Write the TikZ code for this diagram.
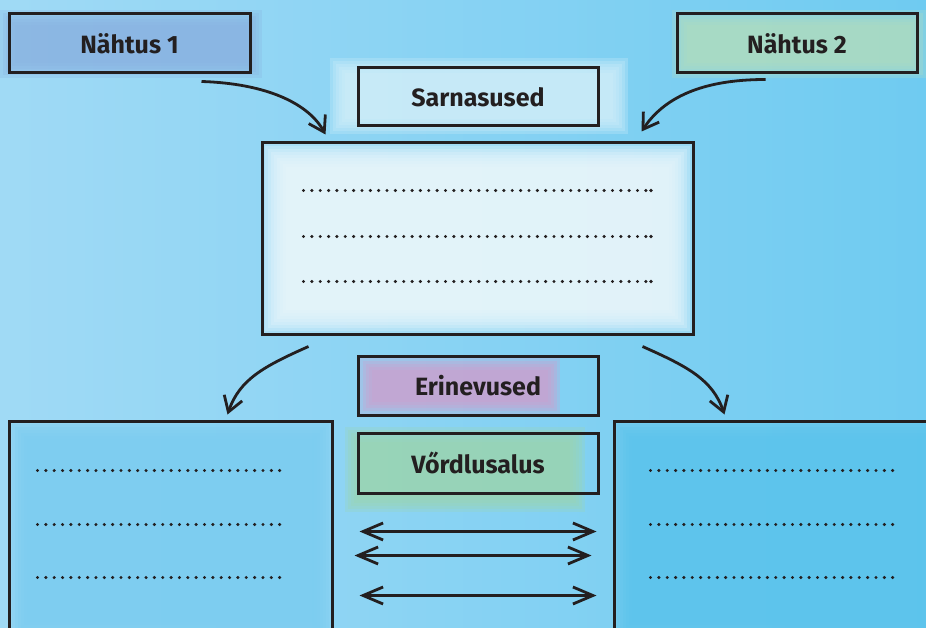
\documentclass[tikz,border=0pt]{standalone}
\usepackage{fontspec}
\setmainfont{Fira Sans}
\usetikzlibrary{arrows.meta,calc}
\definecolor{ink}{HTML}{231F20}
\definecolor{bgl}{HTML}{A0DAF5}
\definecolor{bgr}{HTML}{6FCBF1}
\definecolor{nAfill}{HTML}{8AB3E2}
\definecolor{nBfill}{HTML}{B0DDC0}
\definecolor{simfill}{HTML}{D2EFFA}
\definecolor{cenfill}{HTML}{E8F6FC}
\definecolor{difffill}{HTML}{D09ECC}
\definecolor{cmpfill}{HTML}{9BD6B0}
\definecolor{lfill}{HTML}{7CCDF0}
\definecolor{rfill}{HTML}{5CC4EC}
\newcommand{\softrect}[6]{%
  \foreach \k in {0,...,#6}{%
    \fill[#1, opacity=0.28] ($(#2,#3)+(\k*3,\k*3)$) rectangle ($(#4,#5)-(\k*3,\k*3)$);}}
\begin{document}
\begin{tikzpicture}[x=1pt,y=-1pt,
  lbl/.style={draw=ink, line width=3pt, text=ink, inner sep=0pt,
    font=\fontsize{25}{28}\selectfont\bfseries},
  conn/.style={draw=ink, line width=2.8pt, -{Straight Barb[length=15pt,width=19pt]}},
  twoway/.style={draw=ink, line width=2.8pt,
    {Straight Barb[length=20pt,width=17pt]}-{Straight Barb[length=20pt,width=17pt]}},
  dotrow/.style={draw=ink, line width=3.4pt, line cap=round, dash pattern=on 0pt off 8.35pt}]
\shade[left color=bgl, right color=bgr] (0,0) rectangle (926,628);
\useasboundingbox (0,0) rectangle (926,628);
% soft fills
\softrect{nAfill}{0}{10}{262}{78}{5}
\softrect{nBfill}{672}{10}{926}{78}{5}
\softrect{simfill}{330}{58}{628}{134}{5}
\softrect{cenfill}{262}{143}{693}{334}{8}
\softrect{difffill}{360}{358}{560}{414}{4}
\softrect{cmpfill}{345}{427}{585}{512}{5}
\softrect{lfill}{9}{421}{332}{640}{6}
\softrect{rfill}{614}{421}{940}{640}{6}
% boxes
\node[lbl, minimum width=241pt, minimum height=59pt] (n1) at (129.5,43.5) {Nähtus 1};
\node[lbl, minimum width=240pt, minimum height=59pt] (n2) at (797,43.5) {Nähtus 2};
\node[lbl, minimum width=240pt, minimum height=58pt] (sim) at (478,97) {Sarnasused};
\node[lbl, minimum width=431pt, minimum height=191pt] (cen) at (477.5,238.5) {};
\node[lbl, minimum width=240pt, minimum height=59pt] (dif) at (478,386) {Erinevused};
\node[lbl, minimum width=240pt, minimum height=60pt] (cmp) at (478,463) {Vőrdlusalus};
\node[lbl, minimum width=323pt, minimum height=240pt] (lb) at (170.5,541) {};
\node[lbl, minimum width=340pt, minimum height=240pt] (rb) at (784,541) {};
% dotted rows
\foreach \yy in {49,95,140}{
  \draw[dotrow] ($(cen.north west)+(43,\yy)$) -- ($(cen.north west)+(386,\yy)$);
  \fill[ink] ($(cen.north west)+(390.5,\yy)$) circle (1.8pt);}
\foreach \yy in {51,105,158}{
  \draw[dotrow] ($(lb.north west)+(30,\yy)$) -- ($(lb.north west)+(275,\yy)$);
  \draw[dotrow] ($(rb.north west)+(38,\yy)$) -- ($(rb.north west)+(283,\yy)$);}
% connectors
\draw[conn] ([shift={(-50,7)}]n1.south east) .. controls +(65,2) and +(-17,-31) .. ([shift={(65,-7)}]cen.north west);
\draw[conn] ([shift={(90,5)}]n2.south west) .. controls +(-65,0) and +(22,-33) .. ([shift={(-53,-10)}]cen.north east);
\draw[conn] ([shift={(48,11)}]cen.south west) .. controls +(-45,20) and +(12,-35) .. ([shift={(-106,-5)}]lb.north east);
\draw[conn] ([shift={(-52,11)}]cen.south east) .. controls +(45,20) and +(-12,-35) .. ([shift={(112,-5)}]rb.north west);
\draw[twoway] ($(lb.north east)+(26,112)$) -- ($(rb.north west)+(-16,112)$);
\draw[twoway] ($(lb.north east)+(21,136)$) -- ($(rb.north west)+(-21,136)$);
\draw[twoway] ($(lb.north east)+(26,176)$) -- ($(rb.north west)+(-16,176)$);
\end{tikzpicture}
\end{document}
